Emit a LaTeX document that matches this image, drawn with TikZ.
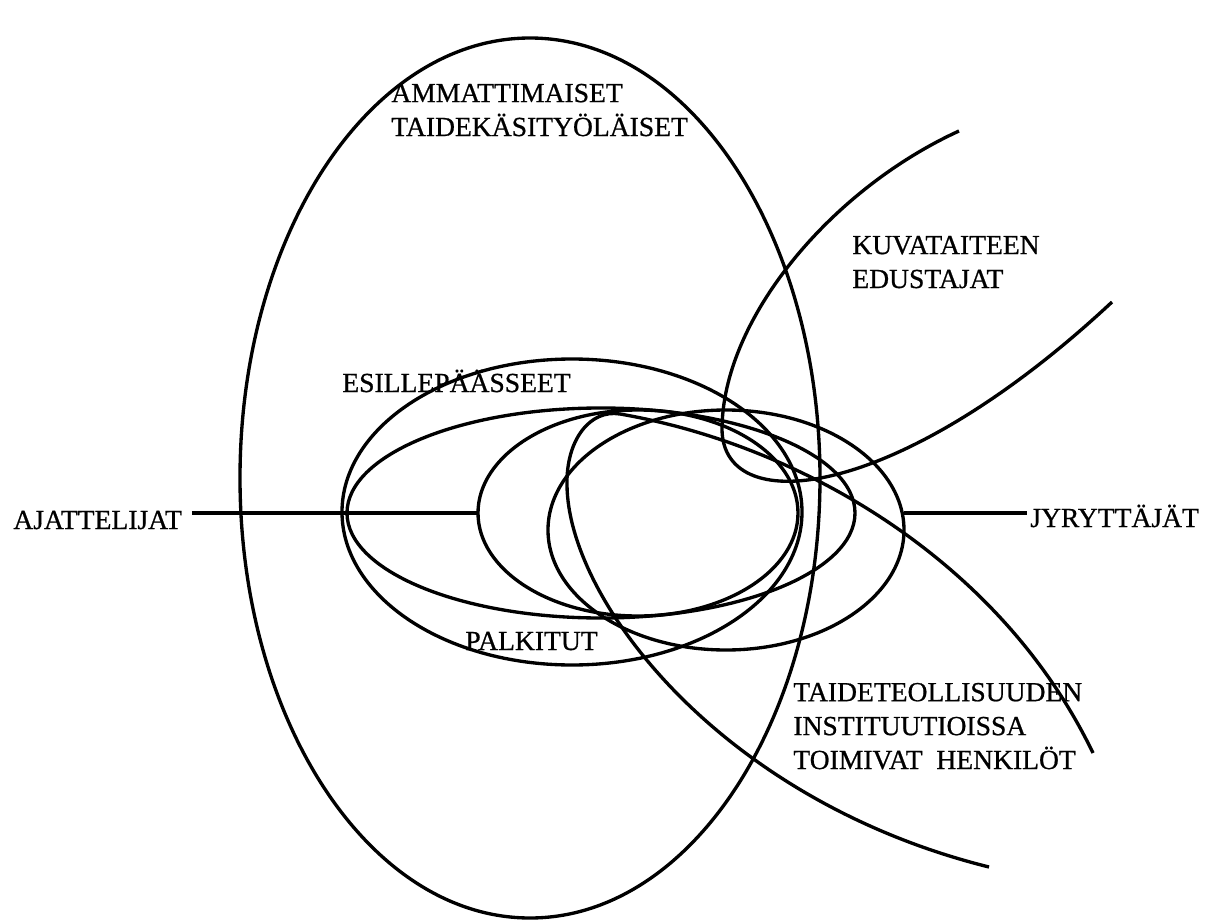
\documentclass[tikz,border=0pt]{standalone}
\usepackage{fontspec}
\setmainfont{Liberation Serif}[RawFeature={embolden=0.7}]

\begin{document}
\begin{tikzpicture}[x=0.02cm,y=-0.02cm,
 font=\fontsize{15.7}{19.3}\selectfont,
 ring/.style={line width=1.9pt,line join=round},
 tag/.style={inner sep=0pt,anchor=base west,align=left}]
\path[use as bounding box] (0,0) rectangle (1205,923);
% The tall oval holds all groups; the flat ones overlap in its middle.
\draw[ring] (530,478) ellipse [x radius=290,y radius=440];
\draw[ring] (572,512) ellipse [x radius=230,y radius=153];
\draw[ring] (601,513) ellipse [x radius=254,y radius=105];
\draw[ring] (638,513) ellipse [x radius=160,y radius=103];
\draw[ring] (726,530) ellipse [x radius=178,y radius=120];
% Two open curves reach in from the right.
\draw[ring] (959,131) .. controls (830,190) and (722,320) .. (722,430)
  .. controls (724,520) and (900,500) .. (1112,302);
\draw[ring] (1093,753) .. controls (1000,560) and (800,445) .. (620,414)
  .. controls (590,409) and (566,440) .. (567,485)
  .. controls (568,600) and (720,800) .. (989,867);
\coordinate (ajEnd) at (478,513);
\coordinate (jyEnd) at (904,513);
% multi-line tags sit on the baseline of their last line
\node[tag] (ammatti) at (391,136) {AMMATTIMAISET\\TAIDEKÄSITYÖLÄISET};
\node[tag] (esille) at (342,392) {ESILLEPÄÄSSEET};
\node[tag] (palkitut) at (465,650) {PALKITUT};
\node[tag] (kuva) at (852,288) {KUVATAITEEN\\EDUSTAJAT};
\node[tag] (ajattelijat) at (13,529) {AJATTELIJAT};
\node[tag] (jyryttajat) at (1030,527) {JYRYTTÄJÄT};
\node[tag] (taide) at (793,769) {TAIDETEOLLISUUDEN\\INSTITUUTIOISSA\\TOIMIVAT\ \ HENKILÖT};
\draw[ring,shorten <=5.5pt] (ajattelijat.east |- ajEnd) -- (ajEnd);
\draw[ring,shorten >=1.5pt] (jyEnd) -- (jyryttajat.west |- jyEnd);
\end{tikzpicture}
\end{document}
